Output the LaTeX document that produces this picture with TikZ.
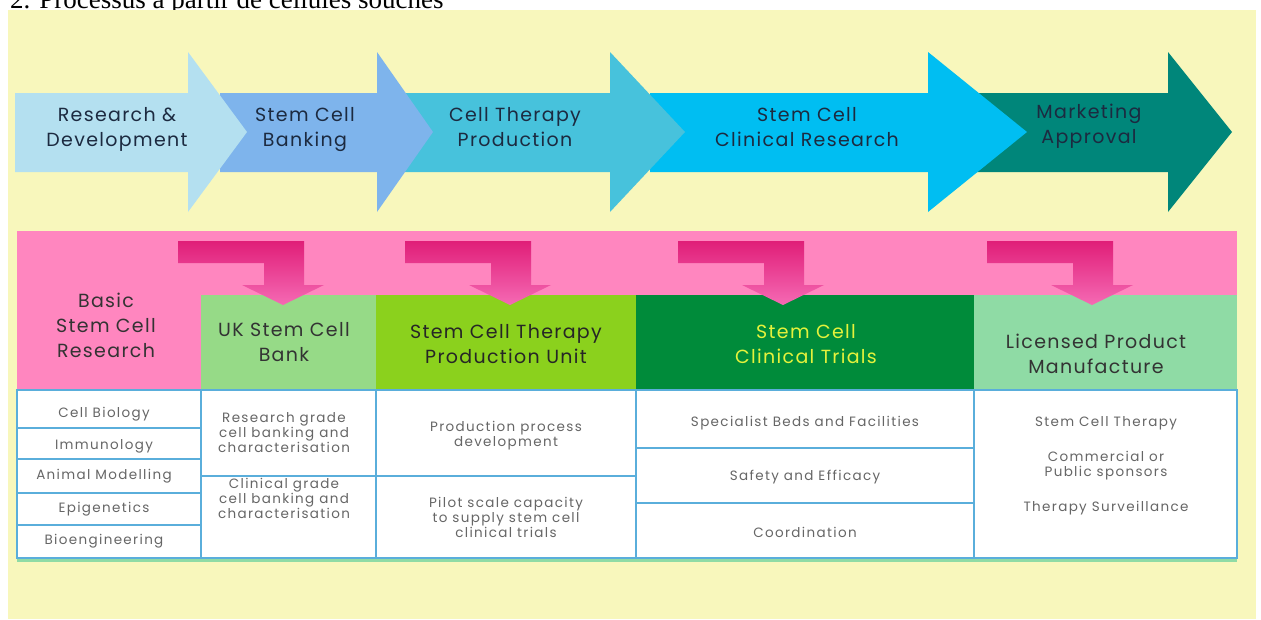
\documentclass[tikz,border=0pt]{standalone}
\usepackage{fontspec}
\setmainfont{Poppins}
\newfontfamily\diafont[LetterSpace=7]{Poppins}
\newfontfamily\cellfont[LetterSpace=10]{Poppins}
\newfontfamily\titlefont{Liberation Serif}

\definecolor{bgyellow}{HTML}{F8F7BC}
\definecolor{arrA}{HTML}{B4E0F0}
\definecolor{arrB}{HTML}{7EB4EC}
\definecolor{arrC}{HTML}{47C2DC}
\definecolor{arrD}{HTML}{00BEF2}
\definecolor{arrE}{HTML}{00867A}
\definecolor{navytext}{HTML}{1C2A40}
\definecolor{pinkband}{HTML}{FF86BF}
\definecolor{magtop}{HTML}{E01E78}
\definecolor{magbot}{HTML}{F56AB4}
\definecolor{greenA}{HTML}{96DA87}
\definecolor{greenB}{HTML}{8BD11D}
\definecolor{greenC}{HTML}{008B3A}
\definecolor{greenD}{HTML}{8FDBA5}
\definecolor{trialtext}{HTML}{E5F23C}
\definecolor{gridblue}{HTML}{5AAEDB}
\definecolor{cellgray}{HTML}{666666}

\tikzset{
  arrowtext/.style={font=\diafont\fontsize{19}{25}\selectfont, text=navytext, align=center, inner sep=0pt},
  headtext/.style={font=\diafont\fontsize{19}{25}\selectfont, text=#1, align=center, inner sep=0pt},
  headtext/.default={black!85},
  celltext/.style={font=\cellfont\fontsize{13.5}{15}\selectfont, text=cellgray, align=center, inner sep=0pt},
  gridline/.style={draw=gridblue, line width=1.5pt}
}

% bent pink arrow dropping from the band into a column header
\newcommand\bentarrow[1]{%
  \shade[top color=magtop, bottom color=magbot]
    (#1,241) -- (#1+126,241) -- (#1+126,285) -- (#1+146,285) -- (#1+105,305)
    -- (#1+64,285) -- (#1+86,285) -- (#1+86,263) -- (#1,263) -- cycle;}

\begin{document}
\begin{tikzpicture}[x=1pt,y=-1pt]
\useasboundingbox (0,0) rectangle (1261,619);
\clip (0,0) rectangle (1261,619);
\fill[white] (0,0) rectangle (1261,619);

\node[anchor=base west, inner sep=0pt, font=\titlefont\fontsize{27}{27}\selectfont] (title) at (10,8) {2. Processus à partir de cellules souches};

\fill[bgyellow] (8,10) rectangle (1256,619);

% process chevrons, right to left so each head lies over the next body
\fill[arrE] (960,93) -- (1168,93) -- (1168,52) -- (1232,132) -- (1168,212) -- (1168,172) -- (960,172) -- cycle;
\fill[arrD] (650,93) -- (928,93) -- (928,52) -- (1027,132) -- (928,212) -- (928,172) -- (650,172) -- cycle;
\fill[arrC] (400,93) -- (610,93) -- (610,52) -- (685,132) -- (610,212) -- (610,172) -- (400,172) -- cycle;
\fill[arrB] (220,93) -- (377,93) -- (377,52) -- (433,132) -- (377,212) -- (377,172) -- (220,172) -- cycle;
\fill[arrA] (15,93) -- (188,93) -- (188,52) -- (247,132) -- (188,212) -- (188,172) -- (15,172) -- cycle;

\node[arrowtext] (rd) at (117,129.5) {Research \&\\Development};
\node[arrowtext] (bank) at (305,129.5) {Stem Cell\\Banking};
\node[arrowtext] (prod) at (515,127.5) {Cell Therapy\\Production};
\node[arrowtext] (clin) at (807,127.5) {Stem Cell\\Clinical Research};
\node[arrowtext] (mkt) at (1089,126.5) {Marketing\\Approval};

% pink band and first column
\fill[pinkband] (17,231) rectangle (1237,295);
\fill[pinkband] (17,295) rectangle (201,390);

% column headers
\fill[greenA] (201,295) rectangle (376,390);
\fill[greenB] (376,295) rectangle (636,390);
\fill[greenC] (636,295) rectangle (974,390);
\fill[greenD] (974,295) rectangle (1237,390);

\bentarrow{178}
\bentarrow{405}
\bentarrow{678}
\bentarrow{987}

\node[headtext={black!80}] (basic) at (106,325) {Basic\\Stem Cell\\Research};
\node[headtext={black!80}] (ukb) at (284,342.5) {UK Stem Cell\\Bank};
\node[headtext={black!85}] (unit) at (506,344.5) {Stem Cell Therapy\\Production Unit};
\node[headtext=trialtext] (trials) at (806,344.5) {Stem Cell\\Clinical Trials};
\node[headtext={black!80}] (lic) at (1096,354) {Licensed Product\\Manufacture};

% table body
\fill[white] (17,390) rectangle (1237,558);
\draw[gridline] (17,428) -- (201,428) (17,459) -- (201,459) (17,493) -- (201,493) (17,525) -- (201,525);
\draw[gridline] (201,476) -- (636,476);
\draw[gridline] (636,448) -- (974,448) (636,503) -- (974,503);
\draw[gridline] (201,390) -- (201,558) (376,390) -- (376,558) (636,390) -- (636,558) (974,390) -- (974,558);
\draw[gridline] (17,390) rectangle (1237,558);
\draw[draw=greenD, line width=3pt] (17,560) -- (1237,560);

\node[celltext] (cbio) at (104,414) {Cell Biology};
\node[celltext] (imm) at (104,446) {Immunology};
\node[celltext] (anim) at (104,476) {Animal Modelling};
\node[celltext] (epi) at (104,509) {Epigenetics};
\node[celltext] (bioe) at (104,541) {Bioengineering};

\node[celltext] (rgrade) at (284,433) {Research grade\\cell banking and\\characterisation};
\node[celltext] (cgrade) at (284,498) {Clinical grade\\cell banking and\\characterisation};

\node[celltext] (ppd) at (506,436) {Production process\\development};
\node[celltext] (pilot) at (506,517) {Pilot scale capacity\\to supply stem cell\\clinical trials};

\node[celltext] (beds) at (805,423) {Specialist Beds and Facilities};
\node[celltext] (safe) at (805,477) {Safety and Efficacy};
\node[celltext] (coord) at (805,532) {Coordination};

\node[celltext] (sct) at (1106,423) {Stem Cell Therapy};
\node[celltext] (spons) at (1106,466) {Commercial or\\Public sponsors};
\node[celltext] (surv) at (1106,508) {Therapy Surveillance};
\end{tikzpicture}
\end{document}
